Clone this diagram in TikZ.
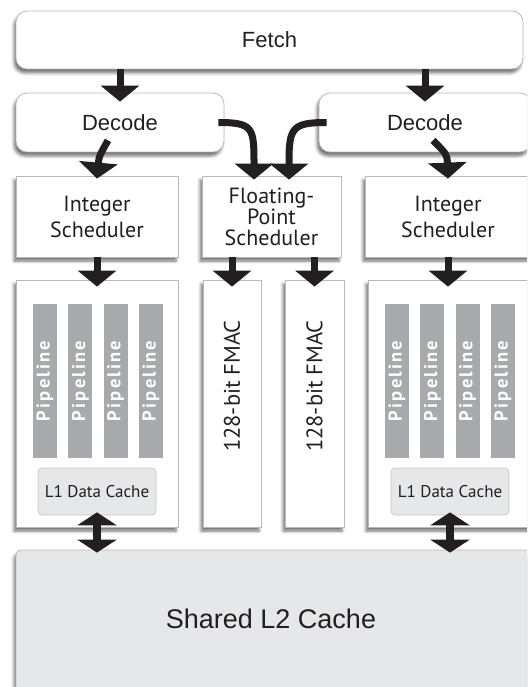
\documentclass[tikz,border=0pt]{standalone}
\usepackage{fontspec}
\setmainfont{Liberation Sans}
\newfontfamily\myriad{PT Sans}
\usepackage{tikz}
\usetikzlibrary{positioning,arrows.meta,calc,shadows.blur}
\definecolor{ink}{RGB}{35,31,32}
\definecolor{edge}{RGB}{185,185,188}
\definecolor{cachegray}{RGB}{230,231,232}
\definecolor{pipegray}{RGB}{167,169,172}
\tikzset{
  shade/.style={blur shadow={shadow xshift=-2pt, shadow yshift=-4pt, shadow blur radius=3pt, shadow opacity=55}},
  box/.style={draw=edge, fill=white, line width=0.8pt, shade, text=ink, inner sep=0pt},
  rbox/.style={box, rounded corners=11pt},
  pipe/.style={fill=pipegray, inner sep=0pt, minimum width=24pt, minimum height=154pt},
  pipetext/.style={rotate=90, text=white, font=\myriad\bfseries\addfontfeatures{LetterSpace=12}\fontsize{18.5}{20}\selectfont},
  cache/.style={draw=edge!80, fill=cachegray, rounded corners=4pt, line width=0.7pt, inner sep=0pt,
    minimum width=118pt, minimum height=47pt, text=ink, font=\myriad\fontsize{17}{19}\selectfont},
  arr/.style={-{Triangle[width=38pt, length=16pt]}, line width=7pt, ink},
  darr/.style={{Triangle[width=39pt, length=13pt]}-{Triangle[width=39pt, length=13pt]}, line width=8pt, ink}
}
\begin{document}
\begin{tikzpicture}[x=1pt, y=-1pt]
    \useasboundingbox (0,0) rectangle (527,687);
    \clip (0,0) rectangle (527,687);

    % Fetch / Decode
    \node[rbox, minimum width=507pt, minimum height=58pt, font=\fontsize{22}{26}\selectfont] (fetch) at (269.5,40) {Fetch};
    \node[rbox, minimum width=208pt, minimum height=59pt, font=\fontsize{22}{26}\selectfont] (decL) at (120,122.5) {Decode};
    \node[rbox, minimum width=212pt, minimum height=59pt, font=\fontsize{22}{26}\selectfont] (decR) at (425,122.5) {Decode};

    % Schedulers
    \node[box, minimum width=162pt, minimum height=81pt, align=center,
      font=\myriad\fontsize{22}{26}\selectfont] (intL) at (97,216.5) {Integer\\Scheduler};
    \node[box, minimum width=139pt, minimum height=81pt, align=center,
      font=\myriad\fontsize{22}{21}\selectfont] (fp) at (271.5,216.5) {Floating-\\Point\\Scheduler};
    \node[box, minimum width=166pt, minimum height=81pt, align=center,
      font=\myriad\fontsize{22}{26}\selectfont] (intR) at (448,216.5) {Integer\\Scheduler};

    % Execution units
    \node[box, minimum width=162pt, minimum height=247pt] (mainL) at (97,403.5) {};
    \node[box, minimum width=58pt, minimum height=247pt] (fmacA) at (232,403.5) {};
    \node[box, minimum width=59pt, minimum height=247pt] (fmacB) at (314.5,403.5) {};
    \node[box, minimum width=163pt, minimum height=247pt] (mainR) at (449.5,403.5) {};
    \node[rotate=90, text=ink, font=\myriad\fontsize{22.5}{24}\selectfont] (fmacAtxt) at (232,386) {128-bit FMAC};
    \node[rotate=90, text=ink, font=\myriad\fontsize{22.5}{24}\selectfont] (fmacBtxt) at (314.5,386) {128-bit FMAC};

    \foreach \i in {0,...,3} {
      \node[pipe] (pipeL\i) at (45+35.3*\i,381) {};
      \node[pipetext] at (pipeL\i) {Pipeline};
      \node[pipe] (pipeR\i) at (397+35.3*\i,381) {};
      \node[pipetext] at (pipeR\i) {Pipeline};
    }
    \node[cache] (cacheL) at (97,491.5) {L1 Data Cache};
    \node[cache] (cacheR) at (450,491.5) {L1 Data Cache};

    % L2
    \node[box, fill=cachegray, rounded corners=5pt, minimum width=530pt, minimum height=160pt] (l2) at (281,630) {};
    \node[text=ink, font=\fontsize{27}{30}\selectfont] (l2txt) at (271,619) {Shared L2 Cache};

    % Arrows
    \draw[arr, shorten >=-9pt] (fetch.south -| decL.north) -- (decL.north);
    \draw[arr, shorten >=-9pt] (fetch.south -| decR.north) -- (decR.north);
    \draw[arr] ([xshift=-12pt,yshift=12pt]decL.south) .. controls +(-9,16) .. ([yshift=-3pt]intL.north);
    \draw[arr] ([xshift=8pt,yshift=12pt]decR.south) .. controls +(14,14) .. ([yshift=-3pt]intR.north);
    \draw[arr] ([xshift=-6pt]decL.east) .. controls +(34,0) and +(0,-34) .. ([xshift=-17.5pt,yshift=14pt]fp.north)
      -- ([xshift=-17.5pt,yshift=-4pt]fp.north);
    \draw[arr] ([xshift=8pt]decR.west) .. controls +(-34,0) and +(0,-34) .. ([xshift=17.5pt,yshift=14pt]fp.north)
      -- ([xshift=17.5pt,yshift=-4pt]fp.north);
    \draw[arr, shorten >=-7pt] (intL.south) -- (mainL.north);
    \draw[arr, shorten >=-7pt] (fp.south -| fmacA.north) -- (fmacA.north);
    \draw[arr, shorten >=-7pt] (fp.south -| fmacB.north) -- (fmacB.north);
    \draw[arr, shorten >=-7pt] (intR.south) -- (intR.south |- mainR.north);
    \draw[darr, shorten <=-3pt, shorten >=-3pt] (cacheL.south) -- (cacheL.south |- l2.north);
    \draw[darr, shorten <=-3pt, shorten >=-3pt] (cacheR.south) -- (cacheR.south |- l2.north);
\end{tikzpicture}
\end{document}
